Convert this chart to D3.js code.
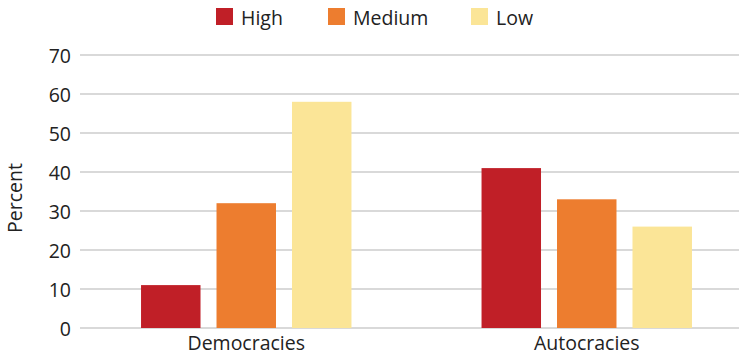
<!DOCTYPE html>
<html><head><meta charset="utf-8">
<script src="https://cdn.jsdelivr.net/npm/d3@7"></script>
<style>body{margin:0;background:#fff}svg{display:block;font-family:"Open Sans",sans-serif}</style>
</head><body>
<svg id="c" width="739" height="361"></svg>
<script>
const categories = ["Democracies", "Autocracies"];
const seriesNames = ["High", "Medium", "Low"];
const high = [11, 41];
const medium = [32, 33];
const low = [58, 26];
const yTicks = [0, 10, 20, 30, 40, 50, 60, 70];
const colors = ["#c01f27", "#ed7d2f", "#fbe597"];

const values = [high, medium, low];
const svg = d3.select("#c");
const W = 739;
const FS = 19.5;
const y = d3.scaleLinear().domain([0, 70]).range([328, 55]);
const x0 = d3.scaleBand().domain(categories).range([76, 757]).paddingInner(0.382).paddingOuter(0.191);
const x1 = d3.scaleBand().domain(seriesNames).range([0, x0.bandwidth()]).paddingInner(0.212);

// grid
svg.append("g").selectAll("line").data(yTicks).join("line")
  .attr("x1", 80).attr("x2", W).attr("y1", d => y(d)).attr("y2", d => y(d))
  .attr("stroke", "#d9d9d9").attr("stroke-width", 2);

// y axis labels
const yAxis = d3.axisLeft(y).tickValues(yTicks).tickSize(0).tickPadding(0);
const gy = svg.append("g").attr("transform", "translate(71,0)").call(yAxis);
gy.select(".domain").remove();
gy.selectAll("text").attr("font-size", FS).attr("fill", "#222").attr("font-family", "'Open Sans',sans-serif").attr("dy", "0.36em");

// bars
const rows = [];
categories.forEach((c, i) => seriesNames.forEach((s, j) => rows.push({c, s, v: values[j][i], j})));
svg.append("g").selectAll("rect").data(rows).join("rect")
  .attr("x", d => x0(d.c) + x1(d.s))
  .attr("width", x1.bandwidth())
  .attr("y", d => y(d.v))
  .attr("height", d => y(0) - y(d.v))
  .attr("fill", d => colors[d.j]);

// x axis labels
const xAxis = d3.axisBottom(x0).tickSize(0).tickPadding(0);
const gx = svg.append("g").attr("transform", "translate(0,341)").call(xAxis);
gx.select(".domain").remove();
gx.selectAll("text").attr("font-size", FS).attr("fill", "#222").attr("font-family", "'Open Sans',sans-serif").attr("dy", "0.45em");

// y title
svg.append("text").attr("transform", "translate(22,198) rotate(-90)")
  .attr("text-anchor", "middle").attr("font-size", FS).attr("fill", "#222").text("Percent");

// legend
const legX = [216, 328, 471];
const lg = svg.append("g").selectAll("g").data(seriesNames).join("g")
  .attr("transform", (d, i) => `translate(${legX[i]},8)`);
lg.append("rect").attr("width", 17).attr("height", 17).attr("fill", (d, i) => colors[i]);
lg.append("text").attr("x", 25).attr("y", 16.5).attr("font-size", FS).attr("fill", "#222").text(d => d);
</script>
</body></html>
